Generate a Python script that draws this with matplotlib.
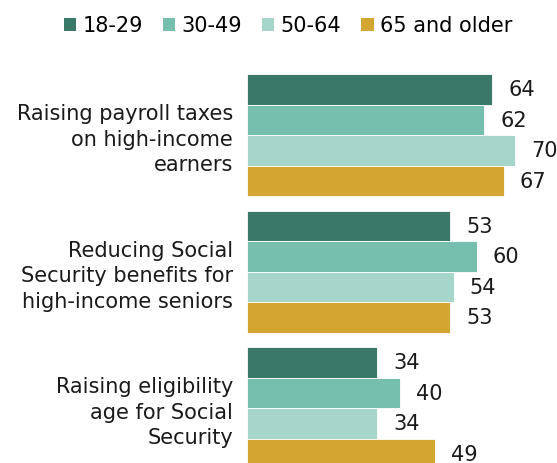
import matplotlib
matplotlib.use("Agg")
import matplotlib.pyplot as plt
from matplotlib.patches import Patch

categories = ["Raising payroll taxes\non high-income\nearners",
              "Reducing Social\nSecurity benefits for\nhigh-income seniors",
              "Raising eligibility\nage for Social\nSecurity"]
series_names = ["18-29", "30-49", "50-64", "65 and older"]
values_18_29 = [64, 53, 34]
values_30_49 = [62, 60, 40]
values_50_64 = [70, 54, 34]
values_65_plus = [67, 53, 49]
series_values = [values_18_29, values_30_49, values_50_64, values_65_plus]
colors = ["#3a7868", "#76bfae", "#a6d5ca", "#d3a531"]

W, H = 557, 463
fig = plt.figure(figsize=(W / 100, H / 100), dpi=100)
ax_left, ax_top = 247, 74
ax = fig.add_axes([ax_left / W, 0, (W - ax_left) / W, (H - ax_top) / H])

bar_h = 0.2235
group_half = 2 * bar_h
fs = 15
for j, (vals, col) in enumerate(zip(series_values, colors)):
    ys = [i - group_half + (j + 0.5) * bar_h for i in range(len(categories))]
    ax.barh(ys, vals, height=bar_h, color=col, edgecolor="white", linewidth=0.6)
    for y, v in zip(ys, vals):
        ax.annotate(str(v), xy=(v, y), xytext=(16, -1), textcoords="offset pixels",
                    va="center", ha="left", fontsize=fs, color="#1a1a1a")

px_per_unit = 3.83
ax.set_xlim(0, (W - ax_left) / px_per_unit)
pitch = 136.5
center1 = ax_top + 2 * bar_h * pitch
ax.set_ylim((H - center1) / pitch, -group_half)
ax.set_yticks(range(len(categories)))
ax.set_yticklabels(categories, fontsize=fs, color="#1a1a1a", ha="right", linespacing=1.35)
ax.tick_params(axis="y", length=0, pad=10)
ax.set_xticks([])
for s in ax.spines.values():
    s.set_visible(False)

handles = [Patch(facecolor=c, edgecolor="none") for c in colors]
fig.legend(handles, series_names, loc="center", bbox_to_anchor=(288 / W, 1 - 26 / H), ncol=4,
           frameon=False, fontsize=fs, handlelength=0.6, handleheight=0.6, handletextpad=0.3,
           columnspacing=0.95, borderaxespad=0)

fig.savefig("out.png", dpi=100)
